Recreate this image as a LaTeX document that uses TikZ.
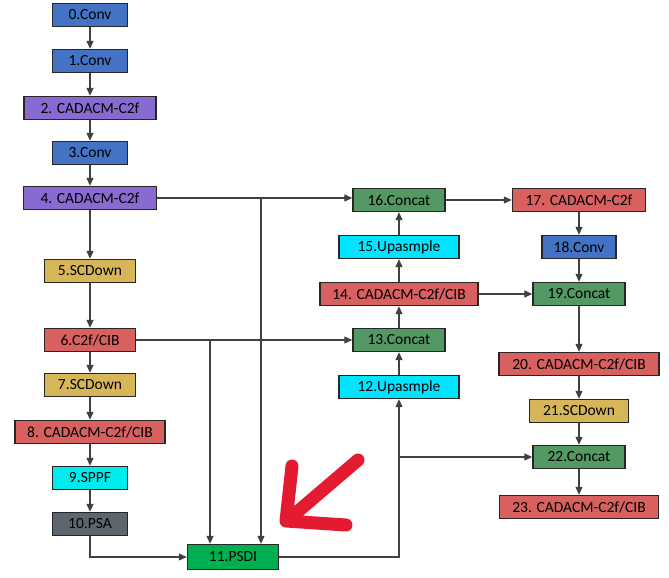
\documentclass[tikz,border=0pt]{standalone}
\usepackage{fontspec}
\setmainfont{Carlito}
\usepackage{tikz}
\usetikzlibrary{arrows.meta, positioning, calc}
\definecolor{convblue}{RGB}{68,114,196}
\definecolor{cadpurple}{RGB}{136,106,208}
\definecolor{scgold}{RGB}{215,182,90}
\definecolor{cibred}{RGB}{216,96,94}
\definecolor{sppfcyan}{RGB}{0,236,236}
\definecolor{upcyan}{RGB}{0,228,255}
\definecolor{psagray}{RGB}{93,101,110}
\definecolor{psdigreen}{RGB}{0,176,80}
\definecolor{catgreen}{RGB}{84,152,100}
\definecolor{markred}{RGB}{228,26,48}

\begin{document}
\begin{tikzpicture}[
  x=1pt, y=-1pt,
  blk/.style={draw=black!85, line width=1.4pt, minimum height=23pt, inner sep=0pt, font=\fontsize{15.5}{18}\selectfont},
  arr/.style={-{Triangle[length=8pt,width=7pt]}, line width=1.1pt, black!75}
]
  \useasboundingbox (0,0) rectangle (669,578);

  % backbone
  \node[blk, fill=convblue, minimum width=75pt] (n0) at (90,15) {0.Conv};
  \node[blk, fill=convblue, minimum width=75pt] (n1) at (90,61) {1.Conv};
  \node[blk, fill=cadpurple, minimum width=132pt] (n2) at (90,108) {2. CADACM-C2f};
  \node[blk, fill=convblue, minimum width=75pt] (n3) at (90,153) {3.Conv};
  \node[blk, fill=cadpurple, minimum width=133pt] (n4) at (90,198) {4. CADACM-C2f};
  \node[blk, fill=scgold, minimum width=91pt] (n5) at (90,271) {5.SCDown};
  \node[blk, fill=cibred, minimum width=91pt] (n6) at (90,340) {6.C2f/CIB};
  \node[blk, fill=scgold, minimum width=91pt] (n7) at (90,385) {7.SCDown};
  \node[blk, fill=cibred, minimum width=150pt] (n8) at (90,432) {8. CADACM-C2f/CIB};
  \node[blk, fill=sppfcyan, minimum width=75pt] (n9) at (90,478) {9.SPPF};
  \node[blk, fill=psagray, minimum width=75pt] (n10) at (90,524) {10.PSA};
  \node[blk, fill=psdigreen, minimum width=91pt, minimum height=25pt] (n11) at (233,557) {11.PSDI};

  % neck
  \node[blk, fill=upcyan, minimum width=120pt] (n12) at (399,387) {12.Upasmple};
  \node[blk, fill=catgreen, minimum width=92pt] (n13) at (399,340) {13.Concat};
  \node[blk, fill=cibred, minimum width=158pt] (n14) at (399,294) {14. CADACM-C2f/CIB};
  \node[blk, fill=upcyan, minimum width=120pt] (n15) at (399,247) {15.Upasmple};
  \node[blk, fill=catgreen, minimum width=92pt] (n16) at (399,200) {16.Concat};
  \node[blk, fill=cibred, minimum width=133pt] (n17) at (579,200) {17. CADACM-C2f};
  \node[blk, fill=convblue, minimum width=74pt] (n18) at (579,247) {18.Conv};
  \node[blk, fill=catgreen, minimum width=92pt] (n19) at (579,294) {19.Concat};
  \node[blk, fill=cibred, minimum width=160pt] (n20) at (579,364) {20. CADACM-C2f/CIB};
  \node[blk, fill=scgold, minimum width=99pt] (n21) at (579,411) {21.SCDown};
  \node[blk, fill=catgreen, minimum width=92pt] (n22) at (579,457) {22.Concat};
  \node[blk, fill=cibred, minimum width=159pt] (n23) at (579,507) {23. CADACM-C2f/CIB};

  \coordinate (j4) at (261,198);
  \coordinate (j6) at (210,340);
  \coordinate (j12) at (399,457);

  \foreach \a/\b in {n0/n1, n1/n2, n2/n3, n3/n4, n4/n5, n5/n6, n6/n7, n7/n8, n8/n9, n9/n10,
                     n12/n13, n13/n14, n14/n15, n15/n16,
                     n17/n18, n18/n19, n19/n20, n20/n21, n21/n22, n22/n23}
    \draw[arr] (\a) -- (\b);

  \draw[arr] (n10.south) |- (n11.west);
  \draw[arr] (n4.east) -- (n4.east -| n16.west);
  \draw[arr] (n6.east) -- (n6.east -| n13.west);
  \draw[arr] (j4) -- (j4 |- n11.north);
  \draw[arr] (j6) -- (j6 |- n11.north);
  \draw[arr] (n11.east) -| (n12.south);
  \draw[arr] (j12) -- (n22.west);
  \draw[arr] (n14.east) -- (n19.west);
  \draw[arr] (n16.east) -- (n17.west);

  % red marker
  \draw[markred, line width=13pt, line cap=round, line join=round]
    (358,460) -- (289,519) (292,466) -- (286,521) -- (346,525);
\end{tikzpicture}
\end{document}
